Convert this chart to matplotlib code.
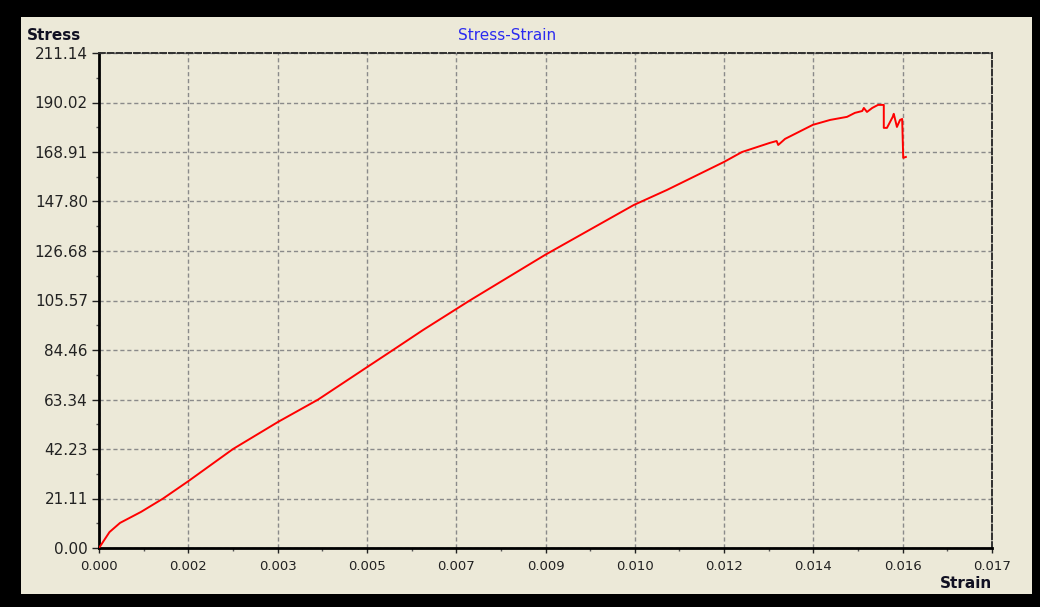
import matplotlib
matplotlib.use('Agg')
import matplotlib.pyplot as plt
from matplotlib.patches import Rectangle

# data
strain = [0, 0.0001, 0.0002, 0.0004, 0.0008, 0.00122, 0.0017, 0.00255, 0.00341,
          0.00417, 0.0051, 0.0056, 0.00617, 0.00706, 0.00849, 0.01018, 0.01081,
          0.0119, 0.01224, 0.01277, 0.0129, 0.01293, 0.01306, 0.01359, 0.01392,
          0.01424, 0.01439, 0.01453, 0.01456, 0.01462, 0.01472, 0.01483, 0.01494,
          0.01494, 0.015, 0.01511, 0.01513, 0.01519, 0.01525, 0.01529, 0.01531,
          0.01536]
stress = [0, 3.4, 6.8, 10.7, 15.4, 21.1, 28.5, 42.2, 53.8,
          63.3, 77.1, 84.5, 93.0, 105.6, 125.0, 146.3, 152.7,
          164.7, 168.9, 172.8, 173.6, 171.9, 174.5, 180.5, 182.6,
          183.9, 185.6, 186.4, 187.7, 186.0, 187.7, 189.0, 189.0,
          179.2, 179.2, 183.9, 185.2, 179.6, 182.6, 183.0, 166.4,
          166.8]

x_max = 0.017
y_max = 211.14
x_labels = ['0.000', '0.002', '0.003', '0.005', '0.007', '0.009',
            '0.010', '0.012', '0.014', '0.016', '0.017']
y_labels = ['0.00', '21.11', '42.23', '63.34', '84.46', '105.57',
            '126.68', '147.80', '168.91', '190.02', '211.14']

bg = '#ece9d8'
W, H = 1040, 607

fig = plt.figure(figsize=(W / 100, H / 100), dpi=100, facecolor='black')
# beige panel inside the black frame
fig.patches.append(Rectangle((21 / W, 1 - 594 / H), (1032 - 21) / W, (594 - 17) / H,
                             transform=fig.transFigure, facecolor=bg,
                             edgecolor='none', zorder=-10))

ax = fig.add_axes([99 / W, 1 - 548 / H, (992 - 99) / W, (548 - 53) / H])
ax.set_facecolor(bg)

ax.plot(strain, stress, color='red', lw=1.4, zorder=3)

n = len(x_labels) - 1
xt = [x_max * i / n for i in range(n + 1)]
yt = [y_max * i / n for i in range(n + 1)]
ax.set_xlim(0, x_max)
ax.set_ylim(0, y_max)
ax.set_xticks(xt)
ax.set_xticklabels(x_labels)
ax.set_yticks(yt)
ax.set_yticklabels(y_labels)
ax.set_xticks([(a + b) / 2 for a, b in zip(xt[:-1], xt[1:])], minor=True)
ax.set_yticks([(a + b) / 2 for a, b in zip(yt[:-1], yt[1:])], minor=True)

ax.tick_params(axis='x', which='major', length=3.5, width=1, pad=5,
               labelsize=9.5, colors='#222222')
ax.tick_params(axis='y', which='major', length=5, width=1, pad=3,
               labelsize=11, colors='#222222')
ax.tick_params(which='minor', length=2.5, width=1, colors='#555555')

ax.grid(True, which='major', color='#8a8a8a', lw=1.0, linestyle=(0, (3, 2)))

ax.spines['left'].set_linewidth(2)
ax.spines['left'].set_color('black')
ax.spines['bottom'].set_linewidth(2)
ax.spines['bottom'].set_color('black')
ax.spines['bottom'].set_linestyle((0, (3, 1)))
for s in ['top', 'right']:
    ax.spines[s].set_linewidth(1.4)
    ax.spines[s].set_color('#303030')
    ax.spines[s].set_linestyle((0, (3, 1.5)))

fig.text(27 / W, 1 - 36 / H, 'Stress', fontsize=11, fontweight='bold',
         color='#111122', ha='left', va='center')
fig.text(992 / W, 1 - 584 / H, 'Strain', fontsize=11, fontweight='bold',
         color='#111122', ha='right', va='center')
fig.text(507 / W, 1 - 36 / H, 'Stress-Strain', fontsize=11, color='#2b2bf0',
         ha='center', va='center')

fig.savefig('out.png', dpi=100, facecolor='black')
